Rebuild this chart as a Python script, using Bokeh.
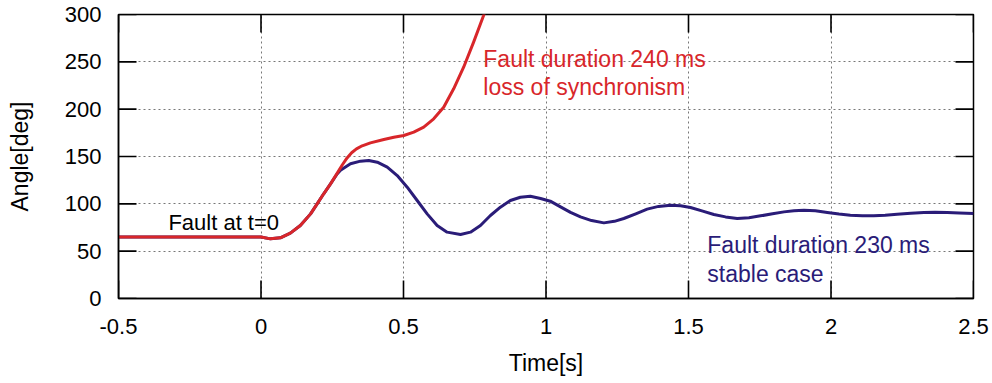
from bokeh.plotting import figure
from bokeh.models import FixedTicker, Range1d
from bokeh.core.properties import value
from bokeh.embed import file_html
from bokeh.resources import INLINE

# Rotor angle after a fault at t=0, two clearing times
t_stable = [-0.5, -0.25, 0.0, 0.033, 0.068, 0.103, 0.138, 0.174, 0.197, 0.22,
            0.244, 0.267, 0.279, 0.314, 0.349, 0.378, 0.408, 0.443, 0.478,
            0.513, 0.548, 0.583, 0.618, 0.653, 0.70, 0.735, 0.77, 0.805, 0.84,
            0.875, 0.91, 0.945, 0.981, 1.015, 1.051, 1.086, 1.121, 1.16, 1.203,
            1.24, 1.273, 1.315, 1.355, 1.395, 1.437, 1.472, 1.507, 1.55, 1.589,
            1.63, 1.671, 1.712, 1.753, 1.795, 1.835, 1.87, 1.905, 1.945, 1.987,
            2.028, 2.068, 2.11, 2.15, 2.19, 2.232, 2.28, 2.326, 2.365, 2.408,
            2.45, 2.5]
angle_stable = [65, 65, 65, 63.0, 64.1, 69.0, 77.1, 89.4, 100, 110.6,
                121.1, 131.5, 135.5, 142.3, 145.1, 145.8, 144, 138.7, 129.9,
                117.6, 103.5, 89.4, 77.1, 70.1, 67.6, 70.1, 77.1, 87.7, 96.5,
                103.5, 107, 108.1, 105.6, 102.8, 96.8, 91, 86.3, 82.3, 79.9,
                81.5, 84.5, 89.5, 94.4, 97.3, 98.6, 97.9, 96.1, 92.3, 88.7,
                86.2, 84.5, 85.4, 87.3, 89.5, 91.5, 92.7, 93.3, 92.6, 90.8,
                89.2, 88, 87.4, 87.3, 88, 89.1, 90.1, 90.8, 91, 90.8,
                90.3, 89.8]

t_unstable = [-0.5, -0.25, 0.0, 0.033, 0.068, 0.103, 0.138, 0.174, 0.197, 0.22,
              0.244, 0.267, 0.285, 0.302, 0.318, 0.335, 0.355, 0.384, 0.431,
              0.466, 0.501, 0.536, 0.571, 0.606, 0.641, 0.676, 0.711, 0.746,
              0.781, 0.80]
angle_unstable = [65, 65, 65, 63.0, 64.1, 69.0, 77.1, 89.4, 100, 110.6,
                  121.1, 132.2, 141, 148.5, 154, 158, 161.3, 164.4, 168,
                  170.4, 172.2, 175.7, 181, 189.8, 202.1, 221.5, 244.3, 270.8,
                  298.9, 318]

x_ticks = [-0.5, 0.0, 0.5, 1.0, 1.5, 2.0, 2.5]
x_tick_labels = ["-0.5", "0", "0.5", "1", "1.5", "2", "2.5"]
y_ticks = [0.0, 50.0, 100.0, 150.0, 200.0, 250.0, 300.0]
y_tick_labels = ["0", "50", "100", "150", "200", "250", "300"]

X_MIN, X_MAX = -0.5, 2.5
Y_MIN, Y_MAX = 0.0, 300.0
TICK_PX = 18                     # inward tick length in pixels

RED = "#d8262a"
NAVY = "#2a1c78"
FONT = "Liberation Sans"

p = figure(width=992, height=383, output_backend="svg", toolbar_location=None,
           x_range=Range1d(X_MIN, X_MAX), y_range=Range1d(Y_MIN, Y_MAX),
           min_border_left=118, min_border_right=19, min_border_top=14,
           min_border_bottom=85)
p.background_fill_color = "white"
p.border_fill_color = "white"
p.outline_line_color = "black"
p.outline_line_width = 1.5

for ax, ticks, labels in ((p.xaxis[0], x_ticks, x_tick_labels),
                          (p.yaxis[0], y_ticks, y_tick_labels)):
    ax.ticker = FixedTicker(ticks=ticks)
    ax.major_label_overrides = {t: s for t, s in zip(ticks, labels)}
    ax.major_tick_in = 0
    ax.major_tick_out = 0
    ax.minor_tick_in = 0
    ax.minor_tick_out = 0
    ax.axis_line_color = "black"
    ax.axis_line_width = 1.5
    ax.major_label_text_font = FONT
    ax.major_label_text_font_size = "22px"
    ax.major_label_text_color = "black"
    ax.axis_label_text_font = FONT
    ax.axis_label_text_font_size = "23px"
    ax.axis_label_text_font_style = "normal"
    ax.axis_label_text_color = "black"

p.xaxis.axis_label = "Time[s]"
p.yaxis.axis_label = "Angle[deg]"
p.xaxis.major_label_standoff = 20
p.xaxis.axis_label_standoff = 13
p.yaxis.major_label_standoff = 17
p.yaxis.axis_label_standoff = 29

p.xgrid.ticker = FixedTicker(ticks=x_ticks)
p.ygrid.ticker = FixedTicker(ticks=y_ticks)
for g in (p.xgrid[0], p.ygrid[0]):
    g.grid_line_color = "#777777"
    g.grid_line_dash = "2 3"
    g.grid_line_width = 1

# inward tick marks on all four edges: thin bars centred on the frame edge,
# the outer half falls outside the frame and is clipped away
nx, ny = len(x_ticks), len(y_ticks)
p.rect(x=x_ticks * 2, y=[Y_MIN] * nx + [Y_MAX] * nx,
       width=1.6, height=2 * TICK_PX, width_units="screen",
       height_units="screen", fill_color="black", line_color=None)
p.rect(x=[X_MIN] * ny + [X_MAX] * ny, y=y_ticks * 2,
       width=2 * TICK_PX, height=1.6, width_units="screen",
       height_units="screen", fill_color="black", line_color=None)

p.line(t_stable, angle_stable, line_color=NAVY, line_width=3,
       line_join="round")
p.line(t_unstable, angle_unstable, line_color=RED, line_width=3,
       line_join="round")

p.text(x=[-0.325], y=[80.6], text=["Fault at t=0"], text_color="black",
       text_font=value(FONT), text_font_size="22px", text_baseline="alphabetic")
p.text(x=[0.78, 0.78], y=[253.2, 223.2],
       text=["Fault duration 240 ms", "loss of synchronism"], text_color=RED,
       text_font=value(FONT), text_font_size="23px", text_baseline="alphabetic")
p.text(x=[1.566, 1.566], y=[56, 26.1],
       text=["Fault duration 230 ms", "stable case"], text_color=NAVY,
       text_font=value(FONT), text_font_size="23px", text_baseline="alphabetic")

open("out.html", "w").write(file_html(p, INLINE))
